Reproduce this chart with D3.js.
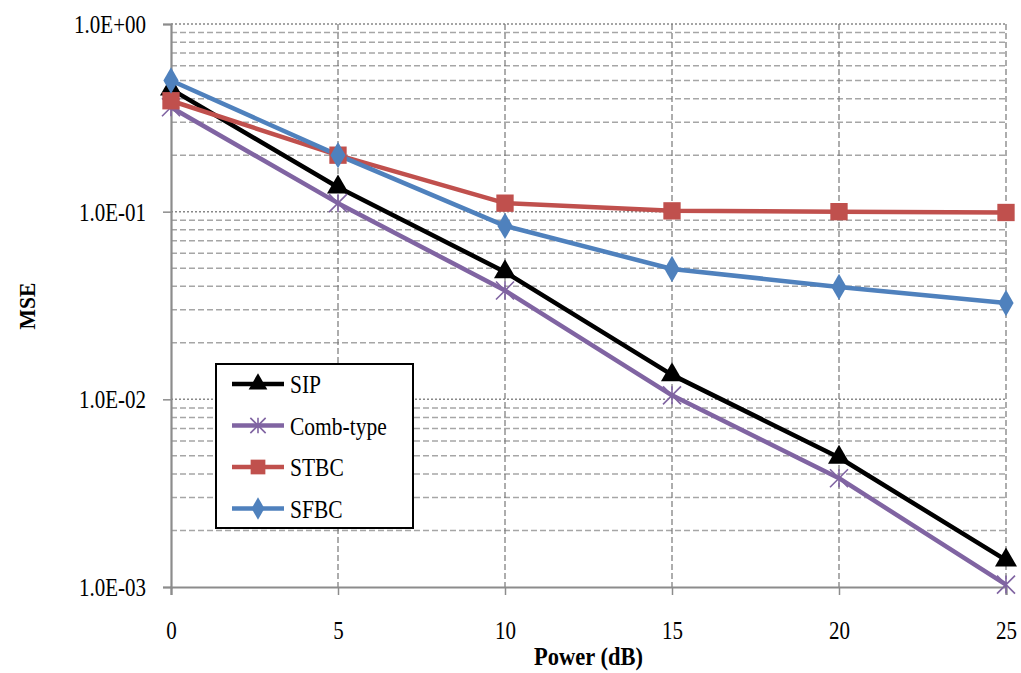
<!DOCTYPE html>
<html><head><meta charset="utf-8">
<script src="https://cdn.jsdelivr.net/npm/d3@7"></script>
<style>body{margin:0;background:#fff}svg{display:block}
svg text{font-family:"Liberation Serif","Times New Roman","DejaVu Serif",serif;}</style>
</head><body>
<svg id="c" width="1021" height="673"></svg>
<script>
const powers = [0, 5, 10, 15, 20, 25];
const sip   = [0.45, 0.135, 0.0477, 0.0135, 0.0049, 0.00139];
const comb  = [0.36, 0.111, 0.038, 0.0105, 0.0038, 0.00103];
const stbc  = [0.39, 0.20, 0.111, 0.101, 0.100, 0.099];
const sfbc  = [0.50, 0.20, 0.084, 0.0495, 0.0397, 0.0326];
const seriesNames = ["SIP", "Comb-type", "STBC", "SFBC"];
const yTickLabels = ["1.0E+00", "1.0E-01", "1.0E-02", "1.0E-03"];
const yTickValues = [1, 0.1, 0.01, 0.001];

const colors = ["#000000", "#8064A2", "#C0504D", "#4F81BD"];
const markers = ["triangle", "star", "square", "diamond"];
const data = [sip, comb, stbc, sfbc];

const svg = d3.select("#c");
const L = 171, R = 1006, T = 24, B = 587;
const x = d3.scaleLinear().domain([0, 25]).range([L, R]);
const y = d3.scaleLog().domain([0.001, 1]).range([B, T]);
const font = '"Liberation Serif","Times New Roman","DejaVu Serif",serif';
const SX = 0.84;

const minor = [];
for (let e = -3; e < 0; e++) for (let m = 2; m <= 9; m++) minor.push(m * Math.pow(10, e));
svg.append("g").selectAll("line").data(minor).join("line")
  .attr("x1", L).attr("x2", R).attr("y1", d => y(d)).attr("y2", d => y(d))
  .attr("stroke", "#a6a6a6").attr("stroke-width", 1.5).attr("stroke-dasharray", "6,3");
svg.append("g").selectAll("line").data(yTickValues.slice(0, 3)).join("line")
  .attr("x1", L).attr("x2", R).attr("y1", d => y(d)).attr("y2", d => y(d))
  .attr("stroke", "#888").attr("stroke-width", 1.5).attr("stroke-dasharray", "2,2");
svg.append("g").selectAll("line").data(powers.slice(1)).join("line")
  .attr("x1", d => x(d)).attr("x2", d => x(d)).attr("y1", T).attr("y2", B)
  .attr("stroke", "#777").attr("stroke-width", 1.2).attr("stroke-dasharray", "6,3");

const yAxis = d3.axisLeft(y).tickValues(yTickValues).tickSize(8)
  .tickFormat((d, i) => yTickLabels[i]);
const gy = svg.append("g").attr("transform", `translate(${L},0)`).call(yAxis);
const xAxis = d3.axisBottom(x).tickValues(powers).tickSize(8);
const gx = svg.append("g").attr("transform", `translate(0,${B})`).call(xAxis);
[gx, gy].forEach(g => {
  g.attr("font-family", null).attr("font-size", null);
  g.select(".domain").attr("stroke", "#8c8c8c").attr("stroke-width", 2.2);
  g.selectAll(".tick line").attr("stroke", "#8c8c8c").attr("stroke-width", 1.5);
  g.selectAll("text").style("font-family", font).style("font-size", "25px").attr("fill", "#000");
});
gy.selectAll("text").attr("x", -25 / SX).attr("dy", "0.34em").attr("transform", `scale(${SX},1)`);
gx.selectAll("text").attr("y", 52).attr("dy", 0).attr("transform", `scale(${SX},1)`)
  .attr("x", 0);

const line = d3.line().x((d, i) => x(powers[i])).y(d => y(d));
const symType = {
  triangle: d3.symbolTriangle, square: d3.symbolSquare, diamond: d3.symbolDiamond
};
data.forEach((vals, s) => {
  svg.append("path").datum(vals).attr("d", line)
    .attr("fill", "none").attr("stroke", colors[s]).attr("stroke-width", 4.5)
    .attr("stroke-linejoin", "round");
});
function drawMarker(g, type, color, cx, cy, scale = 1) {
  if (type === "star") {
    const r = 9 * scale;
    const p = `M${-r},${-r}L${r},${r}M${-r},${r}L${r},${-r}M0,${-r}L0,${r}`;
    g.append("path").attr("d", p).attr("transform", `translate(${cx},${cy})`)
      .attr("stroke", color).attr("stroke-width", 1.6).attr("fill", "none");
  } else {
    const size = { triangle: 210, square: 300, diamond: 200 }[type] * scale * scale;
    g.append("path").attr("d", d3.symbol().type(symType[type]).size(size)())
      .attr("transform", `translate(${cx},${cy})`).attr("fill", color);
  }
}
const mg = svg.append("g");
data.forEach((vals, s) => {
  vals.forEach((v, i) => drawMarker(mg, markers[s], colors[s], x(powers[i]), y(v)));
});

const lg = svg.append("g");
lg.append("rect").attr("x", 216).attr("y", 364).attr("width", 197).attr("height", 164)
  .attr("fill", "#fff").attr("stroke", "#000").attr("stroke-width", 2);
seriesNames.forEach((n, s) => {
  const ly = 384 + s * 41.5;
  lg.append("line").attr("x1", 232).attr("x2", 284).attr("y1", ly).attr("y2", ly)
    .attr("stroke", colors[s]).attr("stroke-width", 4.5);
  drawMarker(lg, markers[s], colors[s], 258, ly, 0.85);
  lg.append("text").attr("transform", `translate(290,${ly + 9}) scale(0.86,1)`).text(n)
    .style("font-family", font).style("font-size", "25px").attr("fill", "#000");
});

svg.append("text").attr("transform", `translate(${(L + R) / 2},665) scale(0.9,1)`)
  .attr("text-anchor", "middle")
  .style("font-family", font).attr("font-weight", "bold").style("font-size", "25px").text("Power (dB)");
svg.append("text").attr("transform", "translate(35,306) rotate(-90) scale(0.9,1)").attr("text-anchor", "middle")
  .style("font-family", font).attr("font-weight", "bold").style("font-size", "24px").text("MSE");
</script>
</body></html>
